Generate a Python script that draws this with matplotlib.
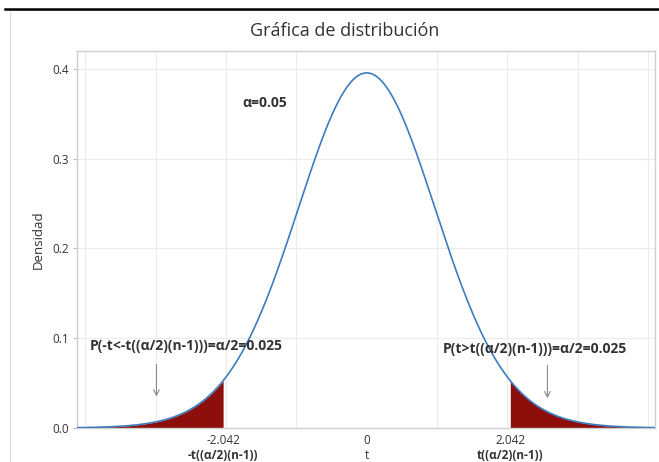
import math
import numpy as np
import matplotlib
matplotlib.use("Agg")
import matplotlib.pyplot as plt
from matplotlib.lines import Line2D
from matplotlib.patches import Rectangle

plt.rcParams['font.family'] = ['Open Sans', 'DejaVu Sans']

# Student t distribution parameters
df = 30
alpha = 0.05
t_crit = 2.042
x_limits = (-4.12, 4.1)
y_ticks = [0.0, 0.1, 0.2, 0.3, 0.4]
x_tick_values = [-t_crit, 0.0, t_crit]
x_tick_labels = ["-2.042", "0", "2.042"]
x_tick_sublabels = ["-t((\u03b1/2)(n-1))", "t", "t((\u03b1/2)(n-1))"]
left_text = "P(-t<-t((\u03b1/2)(n-1)))=\u03b1/2=0.025"
right_text = "P(t>t((\u03b1/2)(n-1)))=\u03b1/2=0.025"


def t_pdf(x, v):
    c = math.gamma((v + 1) / 2) / (math.sqrt(v * math.pi) * math.gamma(v / 2))
    return c * (1 + x ** 2 / v) ** (-(v + 1) / 2)


W, H = 659, 462
fig = plt.figure(figsize=(W / 100, H / 100), dpi=100)
fig.patch.set_facecolor("white")

# outer frame and top rule
fig.add_artist(Rectangle((10 / W, -0.05), 1.0, 1 - 10 / H + 0.05, fill=False,
                         edgecolor="#dcdcdc", lw=0.8))
fig.add_artist(Line2D([5 / W, 1.0], [1 - 9 / H, 1 - 9 / H], color="black", lw=1.8))

ax = fig.add_axes([77 / W, 34 / H, 578 / W, 377 / H])

x = np.linspace(x_limits[0], x_limits[1], 800)
y = t_pdf(x, df)

red = "#8c0f0b"
xl = np.linspace(x_limits[0], -t_crit, 300)
xr = np.linspace(t_crit, x_limits[1], 300)
ax.fill_between(xl, 0, t_pdf(xl, df), color=red, lw=0, zorder=2)
ax.fill_between(xr, 0, t_pdf(xr, df), color=red, lw=0, zorder=2)
ax.plot(x, y, color="#3c7dbf", lw=1.2, zorder=3)

ax.set_xlim(*x_limits)
ax.set_ylim(0, 0.42)
ax.set_yticks(y_ticks)
ax.set_yticklabels([f"{v:.1f}" for v in y_ticks])
ax.set_xticks(range(-4, 5), minor=True)
ax.set_xticks(x_tick_values)
ax.set_xticklabels(x_tick_labels)
ax.grid(True, which="minor", axis="x", color="#ececec", lw=0.8)
ax.grid(True, which="major", axis="y", color="#ececec", lw=0.8)
ax.set_axisbelow(True)
ax.tick_params(axis="x", which="minor", length=0)
ax.tick_params(axis="x", which="major", length=0, pad=4, labelsize=8.5, colors="#333333")
ax.tick_params(axis="y", length=3, color="#bdbdbd", labelsize=8.5, labelcolor="#333333", pad=3)
for s in ax.spines.values():
    s.set_color("#cfcfcf")
    s.set_linewidth(1.0)

for xv, lab in zip(x_tick_values, x_tick_sublabels):
    ax.text(xv, -0.0235, lab, ha="center", va="top", fontsize=8.5,
            fontweight="normal" if lab == "t" else "bold", color="#333333")

ax.set_ylabel("Densidad", fontsize=9.5, color="#333333", labelpad=5)
fig.text(345 / W, 1 - 31 / H, "Gr\u00e1fica de distribuci\u00f3n", fontsize=13,
         color="#333333", ha="center", va="center")

ax.text(-1.45, 0.362, f"\u03b1={alpha}", fontsize=10, fontweight="bold", color="#333333",
        ha="center", va="center")
ax.text(-2.56, 0.091, left_text, fontsize=10, fontweight="bold", color="#333333",
        ha="center", va="center")
ax.text(2.39, 0.088, right_text, fontsize=10, fontweight="bold", color="#333333",
        ha="center", va="center")
ax.annotate("", xy=(-2.99, 0.032), xytext=(-2.99, 0.074),
            arrowprops=dict(arrowstyle="->", color="#888888", lw=0.8))
ax.annotate("", xy=(2.57, 0.030), xytext=(2.57, 0.073),
            arrowprops=dict(arrowstyle="->", color="#888888", lw=0.8))

fig.savefig("out.png", dpi=100, facecolor="white")
